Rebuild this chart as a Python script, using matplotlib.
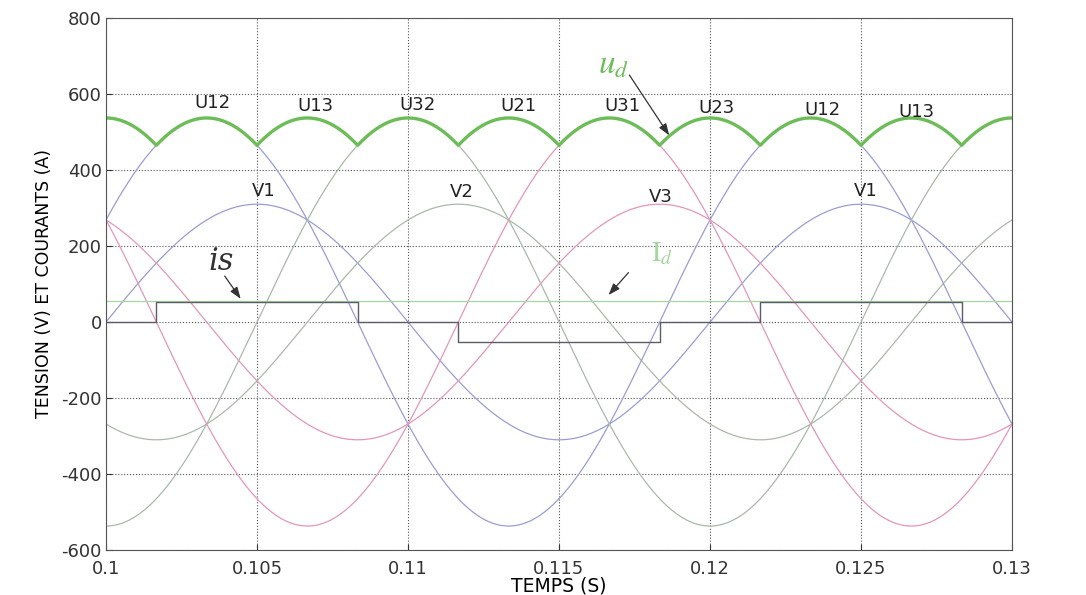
import numpy as np
import matplotlib
matplotlib.use('Agg')
import matplotlib.pyplot as plt

plt.rcParams['font.family'] = ['DejaVu Sans']
plt.rcParams['axes.unicode_minus'] = False
plt.rcParams['mathtext.fontset'] = 'stix'

# source parameters (50 Hz, 310 V peak phase voltage)
freq = 50.0
v_peak = 310.0
t_start = 0.1
t_end = 0.13
phase_names = ['V1', 'V2', 'V3']
phase_shift_deg = [0.0, -120.0, 120.0]

# DC side current and line current switching instants
id_level = 55.0
is_times = [0.1, 0.10167, 0.10833, 0.11167, 0.11833, 0.12167, 0.12833, 0.13]
is_levels = [0.0, 52.0, 0.0, -52.0, 0.0, 52.0, 0.0, 0.0]

# text labels on the curves
ud_labels = ['U12', 'U13', 'U32', 'U21', 'U31', 'U23', 'U12', 'U13']
ud_label_x = [0.10353, 0.10693, 0.11033, 0.11366, 0.1171, 0.1202, 0.12373, 0.12683]
ud_label_y = [576, 568, 570, 568, 568, 562, 557, 552]
v_labels = ['V1', 'V2', 'V3', 'V1']
v_label_x = [0.10521, 0.11178, 0.11838, 0.12515]
v_label_y = [346, 341, 328, 346]

xticks = [0.1, 0.105, 0.11, 0.115, 0.12, 0.125, 0.13]
xtick_labels = ['0.1', '0.105', '0.11', '0.115', '0.12', '0.125', '0.13']
yticks = [-600, -400, -200, 0, 200, 400, 600, 800]

c_blue = '#9a9dd4'
c_green = '#a9baa8'
c_pink = '#e496ba'
c_ud = '#6cbd58'
c_is = '#5c5c68'
c_id = '#a4d6a0'

t = np.linspace(t_start, t_end, 3001)
w = 2 * np.pi * freq
v = [v_peak * np.sin(w * (t - t_start) + np.deg2rad(p)) for p in phase_shift_deg]
u12 = v[0] - v[1]
u23 = v[1] - v[2]
u31 = v[2] - v[0]
ud = np.max(np.abs(np.vstack([u12, u23, u31])), axis=0)

fig = plt.figure(figsize=(10.86, 5.95), dpi=100)
ax = fig.add_axes([106 / 1086, 45 / 595, 906 / 1086, 532 / 595])

cols = [c_blue, c_green, c_pink]
for vi, c in zip(v, cols):
    ax.plot(t, vi, color=c, lw=0.9)
for ui, c in zip([u12, u23, u31], cols):
    ax.plot(t, ui, color=c, lw=0.9)

ax.axhline(id_level, color=c_id, lw=0.9)
ax.step(is_times, is_levels, where='post', color=c_is, lw=1.0)
ax.plot(t, ud, color=c_ud, lw=2.4)

for s, x, y in zip(ud_labels, ud_label_x, ud_label_y):
    ax.text(x, y, s, ha='center', va='center', fontsize=13, color='#222222')
for s, x, y in zip(v_labels, v_label_x, v_label_y):
    ax.text(x, y, s, ha='center', va='center', fontsize=13, color='#222222')

arrow = dict(arrowstyle='-|>,head_length=0.7,head_width=0.25', color='#333333',
             lw=0.9, shrinkA=0, shrinkB=0)
ax.text(0.1038, 158, 'is', fontsize=22, family='DejaVu Serif', style='italic',
        color='#333333', ha='center', va='center')
ax.annotate('', xy=(0.10446, 61), xytext=(0.10393, 121), arrowprops=arrow)
ax.text(0.1168, 678, r'$u_{d}$', fontsize=24, color=c_ud, ha='center', va='center')
ax.annotate('', xy=(0.11865, 491), xytext=(0.11733, 650), arrowprops=arrow)
ax.annotate('', xy=(0.11664, 71), xytext=(0.1173, 130), arrowprops=arrow)
ax.text(0.1184, 180, r'$\mathrm{I}_{d}$', fontsize=20, color=c_id,
        ha='center', va='center')

ax.set_xlim(t_start, t_end)
ax.set_ylim(-600, 800)
ax.set_xticks(xticks)
ax.set_xticklabels(xtick_labels)
ax.set_yticks(yticks)
ax.tick_params(direction='in', labelsize=13, colors='#333333', length=4, pad=3)
ax.tick_params(axis='x', pad=7)
ax.grid(True, ls=':', color='#555555', lw=0.8)
for sp in ax.spines.values():
    sp.set_color('#555555')

ax.set_xlabel('TEMPS (S)', fontsize=13.5, labelpad=-1)
ax.set_ylabel('TENSION (V) ET COURANTS (A)', fontsize=12.5, labelpad=6)

fig.savefig('out.png', dpi=100, facecolor='white')
